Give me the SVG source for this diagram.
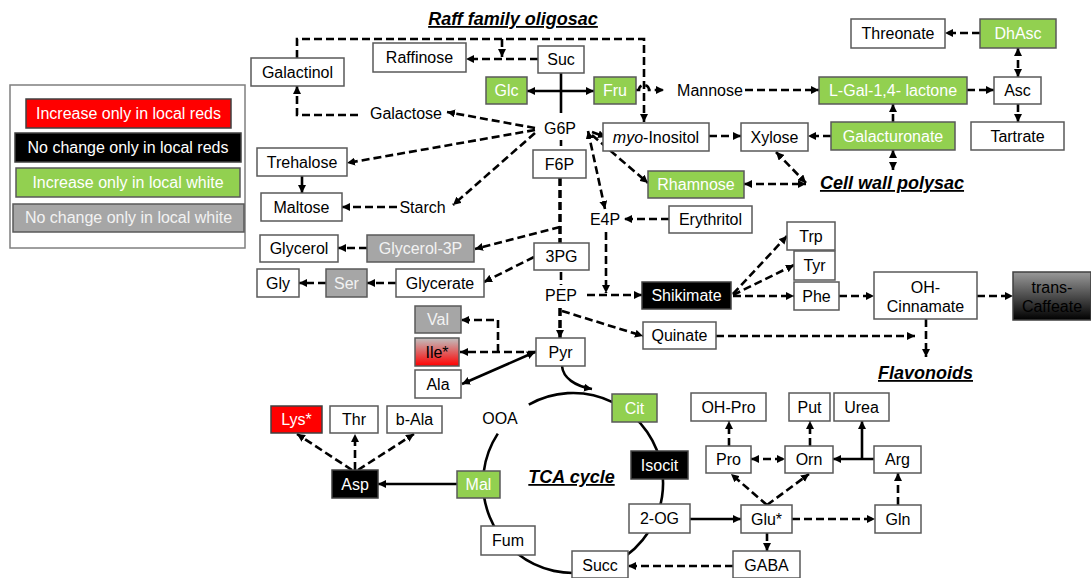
<svg xmlns="http://www.w3.org/2000/svg" width="1091" height="578" viewBox="0 0 1091 578">
<defs>
<marker id="a" viewBox="0 0 10 10" refX="10" refY="5" markerWidth="8" markerHeight="8" markerUnits="userSpaceOnUse" orient="auto-start-reverse"><path d="M0,0 L10,5 L0,10 z" fill="#000"/></marker>
<linearGradient id="gIle" x1="0" y1="0" x2="0" y2="1"><stop offset="0" stop-color="#c0c0c0"/><stop offset="1" stop-color="#ff0000"/></linearGradient>
<linearGradient id="gCaf" x1="0" y1="0" x2="0" y2="1"><stop offset="0" stop-color="#999999"/><stop offset="1" stop-color="#000"/></linearGradient>
</defs>
<style>
text{font-family:"Liberation Sans",Arial,sans-serif;font-size:16px;text-anchor:middle;fill:#000}
.w rect{fill:#fff;stroke:#595959;stroke-width:1.5}
.g rect{fill:#92d050;stroke:#595959;stroke-width:1.5}
.g text,.k text,.r text{fill:#fff}
.k rect{fill:#000;stroke:#404040;stroke-width:1.5}
.r rect{fill:#ff0000;stroke:#404040;stroke-width:1.5}
.y rect{fill:#a6a6a6;stroke:#595959;stroke-width:1.5}
.y text{fill:#f2f2f2}
.ttl{font-weight:bold;font-style:italic;font-size:18px;text-decoration:underline}
#conn path{fill:none;stroke:#000;stroke-width:2.6}
#conn .d{stroke-dasharray:8 4}
#conn .t{stroke-width:3.5}
</style>
<rect x="0" y="0" width="1091" height="578" fill="#fff"/>

<g id="legend">
<rect x="10" y="85" width="235" height="163" fill="#fff" stroke="#7f7f7f" stroke-width="1.5"/>
<g class="r"><rect x="26" y="99" width="205" height="29"/><text x="128.5" y="119">Increase only in local reds</text></g>
<g class="k"><rect x="15" y="133" width="226" height="29"/><text x="128" y="153">No change only in local reds</text></g>
<g class="g"><rect x="16" y="168" width="224" height="29"/><text x="128" y="188">Increase only in local white</text></g>
<g class="y"><rect x="13" y="204" width="231" height="28"/><text x="128.5" y="223">No change only in local white</text></g>
</g>

<g id="titles">
<text class="ttl" x="513" y="25">Raff family oligosac</text>
<text class="ttl" x="892" y="189">Cell wall polysac</text>
<text class="ttl" x="925.5" y="379">Flavonoids</text>
<text class="ttl" x="571.5" y="483">TCA cycle</text>
</g>

<g id="conn">
<path d="M528.8,404.6 A90,90 0 1 1 497.8,433.6"/>
<path class="d" d="M297,58 V39 H644 V122" marker-end="url(#a)"/>
<path class="d" d="M502,39 V57" marker-end="url(#a)"/>
<path class="d" d="M538,59 H466" marker-end="url(#a)"/>
<path class="d" d="M636,90 H639 A5,5 0 0 1 649,90 H664" marker-end="url(#a)"/>
<path class="d" d="M358,115 H297 V86" marker-end="url(#a)"/>
<path class="d" d="M535,128 L447,112" marker-end="url(#a)"/>
<path class="d" d="M535,130 L347,163" marker-end="url(#a)"/>
<path class="d" d="M535,133 L453,205" marker-end="url(#a)"/>
<path d="M302,176 V193" marker-end="url(#a)"/>
<path class="d" d="M397,207 H342" marker-end="url(#a)"/>
<path class="d" d="M588,131 L605,209" marker-start="url(#a)" marker-end="url(#a)"/>
<path class="d" d="M592,132 L606,137" marker-end="url(#a)"/>
<path class="d" d="M592,135 L648,183" marker-end="url(#a)"/>
<path d="M561,73 V113"/>
<path d="M527,91 H594" marker-start="url(#a)" marker-end="url(#a)"/>
<path d="M561,140 V146"/>
<path class="d t" d="M560,178 V243"/>
<path class="d" d="M560,227 L475,249" marker-end="url(#a)"/>
<path class="d" d="M367,248 H338" marker-end="url(#a)"/>
<path class="d" d="M534,257 L484,282" marker-end="url(#a)"/>
<path class="d" d="M396,283 H367" marker-end="url(#a)"/>
<path class="d" d="M326,283 H299" marker-end="url(#a)"/>
<path class="d" d="M561,272 V285"/>
<path class="d t" d="M560,308 V338" marker-end="url(#a)"/>
<path class="d" d="M587,295 H642" marker-end="url(#a)"/>
<path class="d" d="M606,232 V293" marker-end="url(#a)"/>
<path class="d" d="M669,219 H624" marker-end="url(#a)"/>
<path class="d" d="M562,311 L643,336" marker-end="url(#a)"/>
<path class="d" d="M716,336 H915" marker-end="url(#a)"/>
<path class="d" d="M733,294 L787,236" marker-end="url(#a)"/>
<path class="d" d="M733,295 L794,265" marker-end="url(#a)"/>
<path class="d" d="M733,296 H794" marker-end="url(#a)"/>
<path class="d" d="M839,296 H874" marker-end="url(#a)"/>
<path class="d" d="M977,296 H1013" marker-end="url(#a)"/>
<path class="d" d="M926,319 V357" marker-end="url(#a)"/>
<path class="d" d="M536,352 H460" marker-end="url(#a)"/>
<path class="d" d="M498,352 V320 H461" marker-end="url(#a)"/>
<path d="M535,352 L462,384" marker-start="url(#a)" marker-end="url(#a)"/>
<path d="M562,366 C563,378 575,386 592,389" marker-end="url(#a)"/>
<path d="M457,484 H378" marker-end="url(#a)"/>
<path class="d" d="M352,470 L297,434" marker-end="url(#a)"/>
<path class="d" d="M355,470 V434" marker-end="url(#a)"/>
<path class="d" d="M358,470 L414,434" marker-end="url(#a)"/>
<path d="M690,519 H741" marker-end="url(#a)"/>
<path class="d" d="M733,566 H628" marker-end="url(#a)"/>
<path class="d" d="M767,533 V551" marker-end="url(#a)"/>
<path class="d" d="M792,519 H875" marker-end="url(#a)"/>
<path class="d" d="M898,505 V473" marker-end="url(#a)"/>
<path d="M874,459 H833" marker-end="url(#a)"/>
<path d="M862,459 V421" marker-end="url(#a)"/>
<path class="d" d="M751,459 H785" marker-start="url(#a)" marker-end="url(#a)"/>
<path class="d" d="M729,446 V421" marker-end="url(#a)"/>
<path class="d" d="M810,446 V421" marker-end="url(#a)"/>
<path class="d" d="M767,505 L731,474" marker-end="url(#a)"/>
<path class="d" d="M767,505 L809,474" marker-end="url(#a)"/>
<path class="d" d="M745,90 H819" marker-end="url(#a)"/>
<path class="d" d="M967,90 H994" marker-end="url(#a)"/>
<path class="d" d="M980,33 H945" marker-end="url(#a)"/>
<path class="d" d="M1018,48 V77" marker-start="url(#a)" marker-end="url(#a)"/>
<path class="d" d="M1018,104 V122" marker-end="url(#a)"/>
<path class="d" d="M893,122 V104" marker-end="url(#a)"/>
<path class="d" d="M893,150 V170" marker-start="url(#a)" marker-end="url(#a)"/>
<path class="d" d="M831,136 H808" marker-end="url(#a)"/>
<path class="d" d="M709,136 H741" marker-end="url(#a)"/>
<path class="d" d="M776,152 L806,183" marker-start="url(#a)" marker-end="url(#a)"/>
<path class="d" d="M744,184 H806" marker-start="url(#a)" marker-end="url(#a)"/>
</g>

<g id="nodes">
<g id="galactinol" class="w"><rect x="251" y="58" width="93" height="28"/><text x="297.5" y="78">Galactinol</text></g>
<g id="raffinose" class="w"><rect x="373" y="43" width="93" height="29"/><text x="419.5" y="63">Raffinose</text></g>
<g id="suc" class="w"><rect x="538" y="46" width="46" height="27"/><text x="561" y="65">Suc</text></g>
<g id="glc" class="g"><rect x="486" y="77" width="41" height="27"/><text x="506.5" y="96">Glc</text></g>
<g id="fru" class="g"><rect x="594" y="77" width="42" height="27"/><text x="615" y="96">Fru</text></g>
<g id="mannose"><text x="710" y="96">Mannose</text></g>
<g id="galactose"><text x="406" y="119">Galactose</text></g>
<g id="g6p"><rect x="540" y="118" width="40" height="20" fill="#fff"/><text x="560" y="134">G6P</text></g>
<g id="starch"><text x="422.5" y="213">Starch</text></g>
<g id="e4p"><text x="605" y="225">E4P</text></g>
<g id="pep"><text x="561" y="301">PEP</text></g>
<g id="ooa"><text x="500" y="424">OOA</text></g>
<g id="myo" class="w"><rect x="603" y="123" width="106" height="28"/><text x="656" y="143"><tspan font-style="italic">myo</tspan>-Inositol</text></g>
<g id="xylose" class="w"><rect x="741" y="123" width="67" height="28"/><text x="774.5" y="143">Xylose</text></g>
<g id="galacturonate" class="g"><rect x="831" y="122" width="124" height="28"/><text x="893" y="142">Galacturonate</text></g>
<g id="lgal" class="g"><rect x="819" y="77" width="148" height="27"/><text x="893" y="96">L-Gal-1,4- lactone</text></g>
<g id="asc" class="w"><rect x="994" y="77" width="47" height="27"/><text x="1017.5" y="96">Asc</text></g>
<g id="threonate" class="w"><rect x="851" y="19" width="94" height="29"/><text x="898" y="39">Threonate</text></g>
<g id="dhasc" class="g"><rect x="980" y="19" width="76" height="29"/><text x="1018" y="39">DhAsc</text></g>
<g id="tartrate" class="w"><rect x="971" y="122" width="93" height="28"/><text x="1017.5" y="142">Tartrate</text></g>
<g id="trehalose" class="w"><rect x="257" y="148" width="90" height="28"/><text x="302" y="168">Trehalose</text></g>
<g id="maltose" class="w"><rect x="261" y="193" width="81" height="28"/><text x="301.5" y="213">Maltose</text></g>
<g id="f6p" class="w"><rect x="533" y="150" width="53" height="28"/><text x="559.5" y="170">F6P</text></g>
<g id="rhamnose" class="g"><rect x="648" y="171" width="96" height="27"/><text x="696" y="190">Rhamnose</text></g>
<g id="erythritol" class="w"><rect x="669" y="206" width="83" height="27"/><text x="710.5" y="225">Erythritol</text></g>
<g id="glycerol" class="w"><rect x="260" y="235" width="78" height="27"/><text x="299" y="254">Glycerol</text></g>
<g id="glycerol3p" class="y"><rect x="367" y="235" width="107" height="27"/><text x="420.5" y="254">Glycerol-3P</text></g>
<g id="pg3" class="w"><rect x="534" y="243" width="55" height="27"/><text x="561.5" y="262">3PG</text></g>
<g id="gly" class="w"><rect x="257" y="269" width="42" height="28"/><text x="278" y="289">Gly</text></g>
<g id="ser" class="y"><rect x="326" y="269" width="41" height="28"/><text x="346.5" y="289">Ser</text></g>
<g id="glycerate" class="w"><rect x="396" y="269" width="88" height="28"/><text x="440" y="289">Glycerate</text></g>
<g id="shikimate" class="k"><rect x="642" y="282" width="89" height="27"/><text x="686.5" y="301">Shikimate</text></g>
<g id="trp" class="w"><rect x="787" y="222" width="48" height="28"/><text x="811" y="242">Trp</text></g>
<g id="tyr" class="w"><rect x="794" y="251" width="41" height="29"/><text x="814.5" y="271">Tyr</text></g>
<g id="phe" class="w"><rect x="794" y="282" width="45" height="28"/><text x="816.5" y="302">Phe</text></g>
<g id="ohcin" class="w"><rect x="874" y="272" width="103" height="47"/><text x="925.5" y="293">OH-</text><text x="925.5" y="312">Cinnamate</text></g>
<g id="caffeate"><rect x="1013" y="272" width="78" height="48" fill="url(#gCaf)" stroke="#404040" stroke-width="1.5"/><text x="1052" y="293" fill="#e6e6e6">trans-</text><text x="1052" y="312" fill="#e6e6e6">Caffeate</text></g>
<g id="quinate" class="w"><rect x="643" y="322" width="73" height="27"/><text x="679.5" y="341">Quinate</text></g>
<g id="val" class="y"><rect x="415" y="306" width="46" height="27"/><text x="438" y="325">Val</text></g>
<g id="ile"><rect x="415" y="338" width="44" height="28" fill="url(#gIle)" stroke="#595959" stroke-width="1.5"/><text x="437" y="358" fill="#fff">Ile*</text></g>
<g id="pyr" class="w"><rect x="536" y="338" width="49" height="28"/><text x="560.5" y="358">Pyr</text></g>
<g id="ala" class="w"><rect x="415" y="370" width="46" height="28"/><text x="438" y="390">Ala</text></g>
<g id="lys" class="r"><rect x="271" y="406" width="51" height="27"/><text x="296.5" y="425">Lys*</text></g>
<g id="thr" class="w"><rect x="330" y="406" width="48" height="27"/><text x="354" y="425">Thr</text></g>
<g id="bala" class="w"><rect x="387" y="406" width="55" height="27"/><text x="414.5" y="425">b-Ala</text></g>
<g id="asp" class="k"><rect x="332" y="470" width="46" height="28"/><text x="355" y="490">Asp</text></g>
<g id="cit" class="g"><rect x="612" y="394" width="45" height="28"/><text x="634.5" y="414">Cit</text></g>
<g id="isocit" class="k"><rect x="631" y="451" width="57" height="28"/><text x="659.5" y="471">Isocit</text></g>
<g id="mal" class="g"><rect x="457" y="471" width="43" height="27"/><text x="478.5" y="490">Mal</text></g>
<g id="og2" class="w"><rect x="629" y="504" width="61" height="29"/><text x="659.5" y="524">2-OG</text></g>
<g id="fum" class="w"><rect x="481" y="526" width="54" height="29"/><text x="508" y="546">Fum</text></g>
<g id="succ" class="w"><rect x="572" y="551" width="56" height="27"/><text x="600" y="571">Succ</text></g>
<g id="ohpro" class="w"><rect x="691" y="393" width="75" height="28"/><text x="728.5" y="413">OH-Pro</text></g>
<g id="put" class="w"><rect x="789" y="393" width="41" height="28"/><text x="809.5" y="413">Put</text></g>
<g id="urea" class="w"><rect x="834" y="393" width="55" height="28"/><text x="861.5" y="413">Urea</text></g>
<g id="pro" class="w"><rect x="706" y="446" width="45" height="27"/><text x="728.5" y="465">Pro</text></g>
<g id="orn" class="w"><rect x="785" y="446" width="48" height="27"/><text x="809" y="465">Orn</text></g>
<g id="arg" class="w"><rect x="874" y="446" width="47" height="27"/><text x="897.5" y="465">Arg</text></g>
<g id="glu" class="w"><rect x="741" y="505" width="51" height="28"/><text x="766.5" y="525">Glu*</text></g>
<g id="gln" class="w"><rect x="875" y="505" width="46" height="28"/><text x="898" y="525">Gln</text></g>
<g id="gaba" class="w"><rect x="733" y="551" width="67" height="27"/><text x="766.5" y="571">GABA</text></g>
</g>
</svg>
